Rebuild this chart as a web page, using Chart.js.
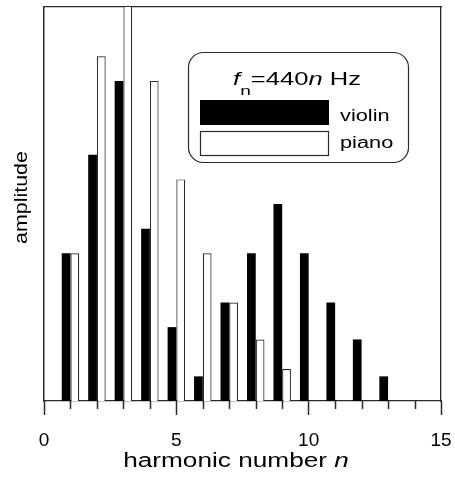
<!DOCTYPE html>
<html>
<head>
<meta charset="utf-8">
<script src="https://cdn.jsdelivr.net/npm/chart.js@4/dist/chart.umd.min.js"></script>
<style>
  html, body { margin: 0; padding: 0; background: #fff; }
  canvas { display: block; }
</style>
</head>
<body>
<canvas id="chart" width="455" height="481"></canvas>
<script>
// Data (amplitudes)
const violinHarmonics = [1, 2, 3, 4, 5, 6, 7, 8, 9, 10, 11, 12, 13];
const violinAmp = [6, 10, 13, 7, 3, 1, 4, 6, 8, 6, 4, 2.5, 1];
const pianoHarmonics = [1, 2, 3, 4, 5, 6, 7, 8, 9];
const pianoAmp = [6, 14, 17, 13, 9, 6, 4, 2.5, 1.3];
const xTickLabels = [0, 5, 10, 15];

const FONT = '"Liberation Sans", Arial, Helvetica, sans-serif';
const LINE = "#2a2a2a";

// draw a row of text pieces with different fonts, stretched sideways
function drawRuns(ctx, runs, cx, baseline, sx) {
  let total = 0;
  runs.forEach(r => {
    ctx.font = r.font;
    r.w = ctx.measureText(r.text).width;
    total += r.w;
  });
  ctx.save();
  ctx.translate(cx - total * sx / 2, baseline);
  ctx.scale(sx, 1);
  ctx.fillStyle = "#000";
  ctx.textBaseline = "alphabetic";
  let x = 0;
  runs.forEach(r => {
    ctx.font = r.font;
    ctx.fillText(r.text, x, r.dy || 0);
    x += r.w;
  });
  ctx.restore();
}

const decorPlugin = {
  id: "decor",
  afterDraw(chart) {
    const ctx = chart.ctx;
    const a = chart.chartArea;
    const xs = chart.scales.x;

    // minor ticks
    ctx.save();
    ctx.strokeStyle = LINE;
    ctx.lineWidth = 1.5;
    for (let v = xs.min; v <= xs.max; v++) {
      if (xTickLabels.includes(v)) continue;
      const px = Math.round(xs.getPixelForValue(v)) + 0.5;
      ctx.beginPath();
      ctx.moveTo(px, a.bottom);
      ctx.lineTo(px, a.bottom + 8);
      ctx.stroke();
    }
    ctx.restore();

    // x title
    drawRuns(ctx, [
      { text: "harmonic number ", font: "20px " + FONT },
      { text: "n", font: "italic 20px " + FONT }
    ], 236, 467, 1.31);

    // y title
    ctx.save();
    ctx.translate(27, 197.5);
    ctx.rotate(-Math.PI / 2);
    drawRuns(ctx, [{ text: "amplitude", font: "18px " + FONT }], 0, 0, 1.19);
    ctx.restore();

    // legend box
    const bx = 188.5, by = 52.5, bw = 220, bh = 110, r = 15;
    ctx.save();
    ctx.fillStyle = "#fff";
    ctx.strokeStyle = LINE;
    ctx.lineWidth = 1.2;
    ctx.beginPath();
    ctx.moveTo(bx + r, by);
    ctx.arcTo(bx + bw, by, bx + bw, by + bh, r);
    ctx.arcTo(bx + bw, by + bh, bx, by + bh, r);
    ctx.arcTo(bx, by + bh, bx, by, r);
    ctx.arcTo(bx, by, bx + bw, by, r);
    ctx.closePath();
    ctx.fill();
    ctx.stroke();
    ctx.restore();

    drawRuns(ctx, [
      { text: "f", font: "italic 18px " + FONT },
      { text: "n", font: "13.5px " + FONT, dy: 9.5 },
      { text: "=440", font: "18px " + FONT },
      { text: "n", font: "italic 18px " + FONT },
      { text: " Hz", font: "18px " + FONT }
    ], 297, 85, 1.42);

    const rows = [{ y: 100, base: 121 }, { y: 131, base: 148 }];
    chart.data.datasets.forEach((ds, i) => {
      const row = rows[i];
      ctx.save();
      ctx.fillStyle = ds.backgroundColor;
      ctx.fillRect(200, row.y, 129, 25);
      if (ds.borderWidth) {
        ctx.strokeStyle = ds.borderColor;
        ctx.lineWidth = 1.2;
        ctx.strokeRect(200.5, row.y + 0.5, 128, 24);
      }
      ctx.restore();
      ctx.save();
      ctx.translate(340, row.base);
      ctx.scale(1.36, 1);
      ctx.font = "16px " + FONT;
      ctx.fillStyle = "#000";
      ctx.fillText(ds.label, 0, 0);
      ctx.restore();
    });
  }
};

// axes used only as frame lines (top and right)
const frameAxis = (size) => ({
  ticks: { display: false },
  grid: { display: false },
  border: { display: true, color: LINE, width: 1.3 },
  afterFit: s => { if (s.isHorizontal()) s.height = size; else s.width = size; }
});

new Chart(document.getElementById("chart"), {
  type: "bar",
  data: {
    datasets: [
      {
        label: "violin",
        data: violinHarmonics.map((n, i) => ({ x: n, y: violinAmp[i] })),
        backgroundColor: "#000",
        borderWidth: 0,
        clip: 0
      },
      {
        label: "piano",
        data: pianoHarmonics.map((n, i) => ({ x: n, y: pianoAmp[i] })),
        backgroundColor: "#fff",
        borderColor: LINE,
        borderWidth: 1.2,
        clip: 0
      }
    ]
  },
  options: {
    responsive: false,
    animation: false,
    layout: { padding: 0, autoPadding: false },
    categoryPercentage: 0.66,
    barPercentage: 1,
    plugins: {
      legend: { display: false },
      tooltip: { enabled: false }
    },
    scales: {
      x: {
        type: "linear",
        offset: false,
        min: 0,
        max: 15,
        afterFit: s => { s.height = 80; s.paddingLeft = 0; s.paddingRight = 0; },
        ticks: {
          stepSize: 1,
          autoSkip: false,
          maxRotation: 0,
          padding: 14,
          color: "#000",
          font: { family: FONT, size: 19 },
          callback: v => xTickLabels.includes(v) ? String(v) : ""
        },
        grid: {
          offset: false,
          drawOnChartArea: false,
          tickLength: 14,
          tickWidth: 1.5,
          tickColor: c => (c.tick && xTickLabels.includes(c.tick.value)) ? LINE : "rgba(0,0,0,0)"
        },
        border: { display: true, color: LINE, width: 1.2 }
      },
      xTop: Object.assign({ type: "linear", position: "top", min: 0, max: 15, offset: false }, frameAxis(7)),
      y: {
        min: 0,
        max: 16,
        afterFit: s => { s.width = 44; },
        ticks: { display: false },
        grid: { display: false },
        border: { display: true, color: LINE, width: 1.5 }
      },
      yRight: Object.assign({ type: "linear", position: "right", min: 0, max: 16 }, frameAxis(14))
    }
  },
  plugins: [decorPlugin]
});
</script>
</body>
</html>
